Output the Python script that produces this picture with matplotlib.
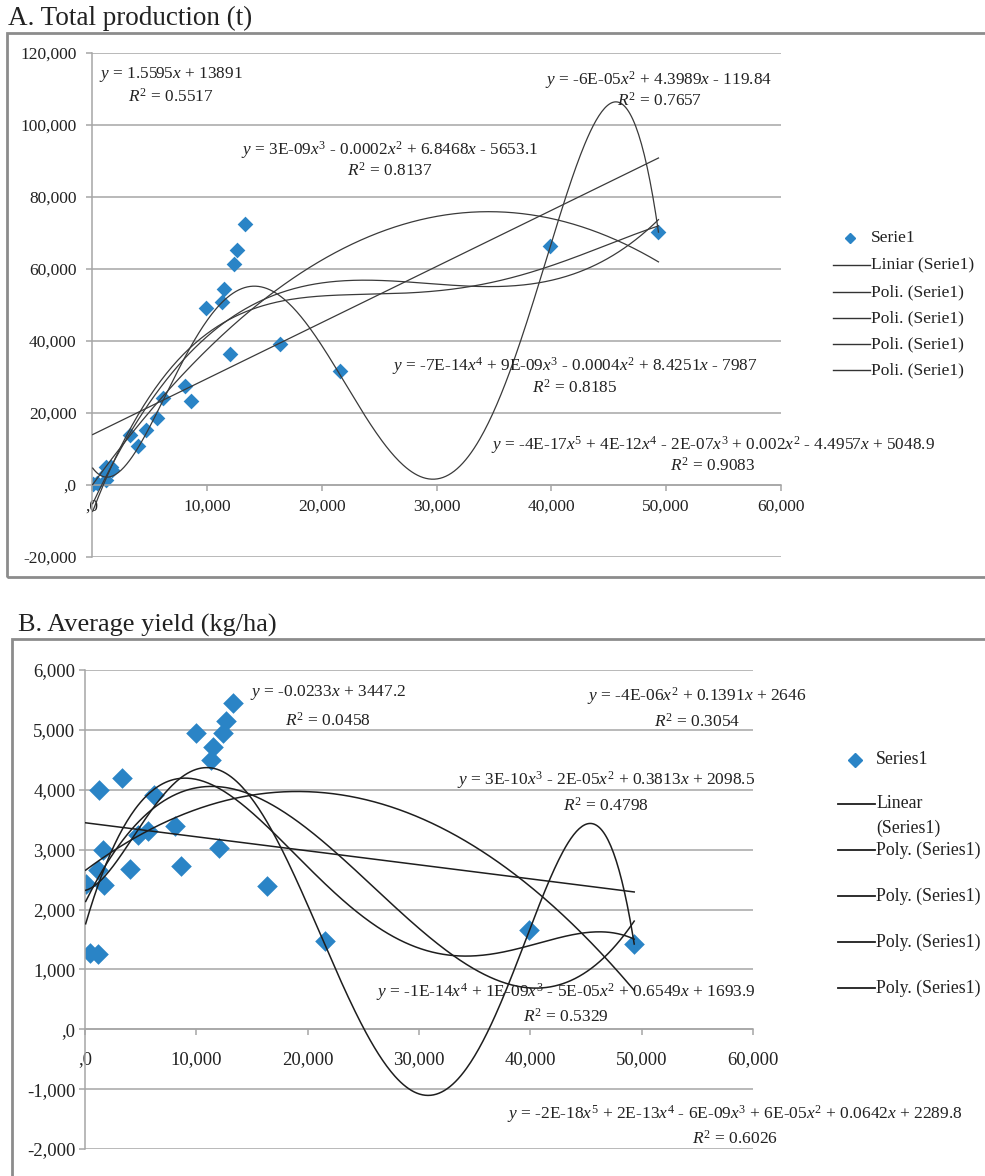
import numpy as np
import matplotlib.pyplot as plt
from matplotlib.lines import Line2D
from matplotlib.patches import Rectangle

plt.rcParams['font.family'] = 'Liberation Serif'
plt.rcParams['mathtext.fontset'] = 'custom'
plt.rcParams['mathtext.rm'] = 'Liberation Serif'
plt.rcParams['mathtext.it'] = 'Liberation Serif:italic'

W, H = 985, 1176

# cultivated area (ha) per county, shared by both panels
area = np.array([60, 450, 1200, 1200, 1260, 1650, 1740, 3290, 4040, 4730,
                 5630, 6200, 8090, 8600, 9970, 11290, 11530, 12040, 12370,
                 12640, 13330, 16380, 21560, 39920, 49330])
# total production (t)
production = np.array([150, 580, 1510, 3200, 5050, 4950, 4180, 14000, 10700,
                       15300, 18500, 24200, 27600, 23300, 49200, 50900, 54500,
                       36500, 61500, 65300, 72500, 39100, 31600, 66500, 70200])
# average yield (kg/ha)
avg_yield = np.array([2428, 1278, 1262, 2667, 4000, 3000, 2405, 4195, 2678,
                      3250, 3305, 3917, 3400, 2722, 4945, 4500, 4710, 3028,
                      4945, 5150, 5445, 2388, 1467, 1665, 1420])

degrees = [1, 2, 3, 4, 5]

x_ticks = [0, 10000, 20000, 30000, 40000, 50000, 60000]
x_tick_labels = [',0', '10,000', '20,000', '30,000', '40,000', '50,000', '60,000']
prod_ticks = [-20000, 0, 20000, 40000, 60000, 80000, 100000, 120000]
prod_tick_labels = ['-20,000', ',0', '20,000', '40,000', '60,000', '80,000',
                    '100,000', '120,000']
yield_ticks = [-2000, -1000, 0, 1000, 2000, 3000, 4000, 5000, 6000]
yield_tick_labels = ['-2,000', '-1,000', ',0', '1,000', '2,000', '3,000',
                     '4,000', '5,000', '6,000']

legend_a = ['Serie1', 'Liniar (Serie1)', 'Poli. (Serie1)', 'Poli. (Serie1)',
            'Poli. (Serie1)', 'Poli. (Serie1)']
legend_b = ['Series1', 'Linear\n(Series1)', 'Poly. (Series1)', 'Poly. (Series1)',
            'Poly. (Series1)', 'Poly. (Series1)']

eq_a = [
    ('$y$ = 1.5595$x$ + 13891', '$R^2$ = 0.5517'),
    ('$y$ = -6E-05$x^2$ + 4.3989$x$ - 119.84', '$R^2$ = 0.7657'),
    ('$y$ = 3E-09$x^3$ - 0.0002$x^2$ + 6.8468$x$ - 5653.1', '$R^2$ = 0.8137'),
    ('$y$ = -7E-14$x^4$ + 9E-09$x^3$ - 0.0004$x^2$ + 8.4251$x$ - 7987', '$R^2$ = 0.8185'),
    ('$y$ = -4E-17$x^5$ + 4E-12$x^4$ - 2E-07$x^3$ + 0.002$x^2$ - 4.4957$x$ + 5048.9',
     '$R^2$ = 0.9083'),
]
eq_b = [
    ('$y$ = -0.0233$x$ + 3447.2', '$R^2$ = 0.0458'),
    ('$y$ = -4E-06$x^2$ + 0.1391$x$ + 2646', '$R^2$ = 0.3054'),
    ('$y$ = 3E-10$x^3$ - 2E-05$x^2$ + 0.3813$x$ + 2098.5', '$R^2$ = 0.4798'),
    ('$y$ = -1E-14$x^4$ + 1E-09$x^3$ - 5E-05$x^2$ + 0.6549$x$ + 1693.9', '$R^2$ = 0.5329'),
    ('$y$ = -2E-18$x^5$ + 2E-13$x^4$ - 6E-09$x^3$ + 6E-05$x^2$ + 0.0642$x$ + 2289.8',
     '$R^2$ = 0.6026'),
]
# label centres in pixels: (x, y of first line, y of second line)
eq_a_pos = [(171, 75, 97), (659, 80, 101), (390, 150, 171), (575, 366, 388), (713, 445, 466)]
eq_b_pos = [(328, 693, 721), (697, 696, 722), (606, 780, 806), (566, 992, 1017), (735, 1114, 1139)]

BLUE = '#2a84c6'
GRID = '#a6a6a6'
TEXT = '#222222'

fig = plt.figure(figsize=(W / 100, H / 100), dpi=100)


def fx(x):
    return x / W


def fy(y):
    return 1 - y / H


def panel(left, top, right, bottom):
    return fig.add_axes([fx(left), fy(bottom), (right - left) / W, (bottom - top) / H])


def style(ax, yt, ylab, fs, ypad, xpad):
    ax.set_xlim(0, 60000)
    ax.set_ylim(yt[0], yt[-1])
    ax.set_xticks(x_ticks)
    ax.set_xticklabels(x_tick_labels)
    ax.set_yticks(yt)
    ax.set_yticklabels(ylab)
    ax.grid(axis='y', color=GRID, lw=1.1)
    ax.set_axisbelow(True)
    for s in ['top', 'right']:
        ax.spines[s].set_visible(False)
    ax.spines['bottom'].set_position(('data', 0))
    for s in ['bottom', 'left']:
        ax.spines[s].set_color(GRID)
        ax.spines[s].set_linewidth(1.1)
    ax.tick_params(colors=GRID, labelcolor=TEXT, labelsize=fs, length=4, width=1.1)
    ax.tick_params(axis='y', pad=ypad)
    ax.tick_params(axis='x', pad=xpad)
    ax.patch.set_alpha(0)


def trendlines(ax, y, color, lw):
    xs = np.linspace(area.min(), area.max(), 400)
    for d in degrees:
        p = np.polynomial.Polynomial.fit(area, y, d)
        ax.plot(xs, p(xs), color=color, lw=lw, zorder=3)


def legend(x0, rows, labels, ms, fs, color, lw, wrap_gap):
    fig.add_artist(Line2D([fx(x0 + 17)], [fy(rows[0])], marker='D', ms=ms, color=BLUE,
                          lw=0, transform=fig.transFigure))
    fig.text(fx(x0 + 38), fy(rows[0]), labels[0], fontsize=fs, color=TEXT, va='center')
    for r, lab in zip(rows[1:], labels[1:]):
        fig.add_artist(Line2D([fx(x0), fx(x0 + 37)], [fy(r), fy(r)], color=color, lw=lw,
                              transform=fig.transFigure))
        for i, part in enumerate(lab.split('\n')):
            fig.text(fx(x0 + 38), fy(r + i * wrap_gap), part, fontsize=fs, color=TEXT,
                     va='center')


def equations(eqs, pos, fs):
    for (l1, l2), (cx, y1, y2) in zip(eqs, pos):
        fig.text(fx(cx), fy(y1), l1, fontsize=fs, color=TEXT, ha='center', va='center')
        fig.text(fx(cx), fy(y2), l2, fontsize=fs, color=TEXT, ha='center', va='center')


# chart frames
fig.add_artist(Rectangle((fx(7), fy(577)), 1.0, fy(33) - fy(577), transform=fig.transFigure,
                         fill=False, ec='#8c8c8c', lw=2))
fig.add_artist(Rectangle((fx(12), fy(H + 20)), 1.0, fy(639) - fy(H + 20), transform=fig.transFigure,
                         fill=False, ec='#8c8c8c', lw=2))

# A. total production
fig.text(fx(8), fy(25), 'A. Total production (t)', fontsize=19.5, color=TEXT, va='baseline')
ax1 = panel(92, 53, 781, 557)
style(ax1, prod_ticks, prod_tick_labels, 12.5, 7, 6)
ax1.scatter(area, production, marker='D', s=8 ** 2, color=BLUE, lw=0, zorder=2)
trendlines(ax1, production, '#3a3a3a', 0.9)
legend(833, [238, 265, 292, 318, 344, 370], legend_a, 5.5, 12.5, '#333333', 1.0, 0)
equations(eq_a, eq_a_pos, 12.4)

# B. average yield
fig.text(fx(18), fy(632), 'B. Average yield (kg/ha)', fontsize=19, color=TEXT, va='baseline')
ax2 = panel(85, 670, 753, 1149)
style(ax2, yield_ticks, yield_tick_labels, 13.5, 3, 12)
ax2.scatter(area, avg_yield, marker='D', s=10.5 ** 2, color=BLUE, lw=0, zorder=2)
trendlines(ax2, avg_yield, '#1e1e1e', 1.1)
legend(838, [760, 804, 850, 896, 942, 988], legend_b, 7, 12.8, '#1e1e1e', 1.3, 24)
equations(eq_b, eq_b_pos, 12.5)

fig.savefig('out.png', dpi=100)
